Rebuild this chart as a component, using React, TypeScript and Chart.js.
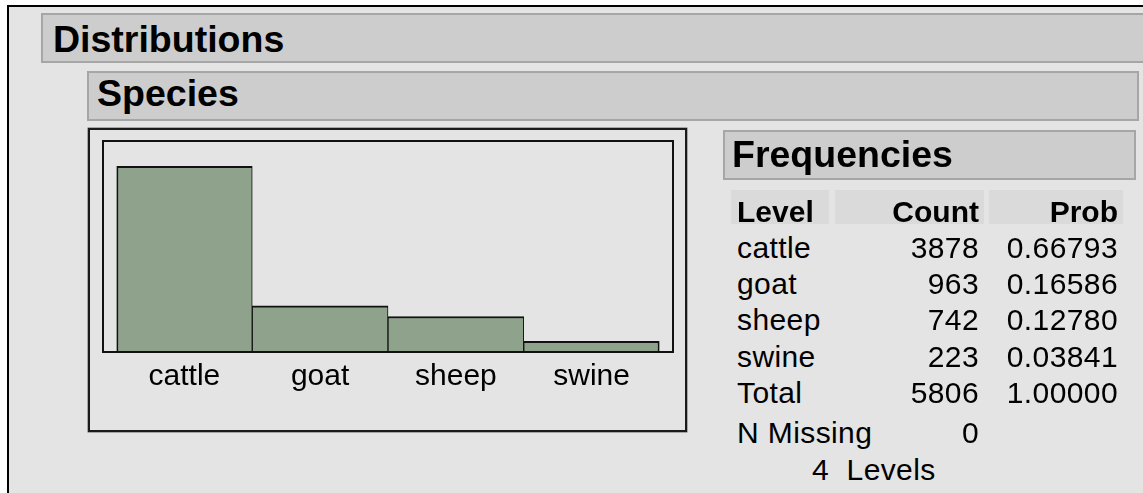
import React, { useEffect, useRef } from "react";
import { Chart, registerables } from "chart.js";

Chart.register(...registerables);

const levels = ["cattle", "goat", "sheep", "swine"];
const counts = [3878, 963, 742, 223];
const nMissing = 0;
const yAxisMax = 4410;

const FONT = "'Liberation Sans', Arial, sans-serif";
const BAR_FILL = "#8fa28c";
const PANEL_BG = "#e4e4e4";
const HEADER_BG = "#cdcdcd";
const HEADER_BORDER = "#a6a6a6";

type TxtProps = {
  x: number;
  base: number;
  size: number;
  bold?: boolean;
  align?: "left" | "right";
  children: React.ReactNode;
};

function Txt({ x, base, size, bold, align = "left", children }: TxtProps) {
  const top = base - 0.8465 * size;
  const style: React.CSSProperties = {
    position: "absolute",
    top,
    fontFamily: FONT,
    fontSize: size,
    lineHeight: `${size}px`,
    fontWeight: bold ? 700 : 400,
    color: "#000",
    whiteSpace: "nowrap",
    letterSpacing: bold ? 0 : 0.4,
  };
  if (align === "right") {
    style.left = x - 400;
    style.width = 400;
    style.textAlign = "right";
  } else {
    style.left = x;
  }
  return <div style={style}>{children}</div>;
}

function Header({ left, top, width, label, textX, base }: { left: number; top: number; width: number; label: string; textX: number; base: number }) {
  return (
    <>
      <div
        style={{
          position: "absolute",
          left,
          top,
          width,
          height: 50,
          boxSizing: "border-box",
          background: HEADER_BG,
          border: `2px solid ${HEADER_BORDER}`,
        }}
      />
      <Txt x={textX} base={base} size={37.5} bold>
        {label}
      </Txt>
    </>
  );
}

function BarChart() {
  const ref = useRef<HTMLCanvasElement | null>(null);
  useEffect(() => {
    if (!ref.current) return;
    const last = counts.length - 1;
    const framePlugin = {
      id: "innerFrame",
      afterDatasetsDraw(chart: any) {
        const { ctx, chartArea } = chart;
        const pad = 13.5;
        ctx.save();
        ctx.strokeStyle = "#111";
        ctx.lineWidth = 2;
        ctx.strokeRect(
          chartArea.left - pad,
          chartArea.top,
          chartArea.right - chartArea.left + 2 * pad,
          chartArea.bottom - chartArea.top
        );
        ctx.restore();
      },
    };
    const chart = new Chart(ref.current, {
      type: "bar",
      data: {
        labels: levels,
        datasets: [
          {
            data: counts,
            backgroundColor: BAR_FILL,
            borderColor: "#111",
            borderSkipped: false,
            borderWidth: (c: any) => ({
              top: 2,
              bottom: 0,
              left: c.dataIndex === 0 ? 2 : 1,
              right: c.dataIndex === last ? 2 : 1,
            }),
            categoryPercentage: 1,
            barPercentage: 1,
          },
        ],
      },
      options: {
        animation: false,
        responsive: false,
        maintainAspectRatio: false,
        events: [],
        layout: { padding: { left: 27.5, right: 26.5, top: 12, bottom: 29 } },
        plugins: { legend: { display: false }, tooltip: { enabled: false } },
        scales: {
          x: {
            grid: { display: false, drawTicks: false },
            border: { display: false },
            ticks: {
              padding: 7,
              color: "#000",
              font: { family: FONT, size: 30 },
              maxRotation: 0,
              autoSkip: false,
            },
          },
          y: { display: false, min: 0, max: yAxisMax },
        },
      },
      plugins: [framePlugin],
    });
    return () => chart.destroy();
  }, []);
  return (
    <canvas
      ref={ref}
      width={597}
      height={302}
      style={{ position: "absolute", left: 89, top: 129, width: 597, height: 302 }}
    />
  );
}

export default function App() {
  const total = counts.reduce((a, b) => a + b, 0);
  const rowBase = (i: number) => 258 + i * 36.3;
  return (
    <div
      style={{
        position: "fixed",
        left: 0,
        top: 0,
        width: 1143,
        height: 493,
        background: "#fff",
        overflow: "hidden",
      }}
    >
      <div
        style={{
          position: "absolute",
          left: 7,
          top: 5,
          width: 1200,
          height: 600,
          background: PANEL_BG,
          borderLeft: "2px solid #000",
          borderTop: "2px solid #000",
        }}
      />
      <Header left={41} top={13} width={1150} label="Distributions" textX={53} base={53} />
      <Header left={87} top={71} width={1052} label="Species" textX={97} base={107} />

      <div
        style={{
          position: "absolute",
          left: 88,
          top: 128,
          width: 599,
          height: 304,
          boxSizing: "border-box",
          border: "2px solid #1a1a1a",
          boxShadow: "0 0 0 0.5px #666",
        }}
      />
      <BarChart />

      <Header left={723} top={130} width={413} label="Frequencies" textX={732} base={168} />

      <div style={{ position: "absolute", left: 731, top: 190, width: 98, height: 34, background: "#dadada" }} />
      <div style={{ position: "absolute", left: 835, top: 190, width: 149, height: 34, background: "#dadada" }} />
      <div style={{ position: "absolute", left: 989, top: 190, width: 134, height: 34, background: "#dadada" }} />

      <Txt x={737} base={222} size={30} bold>Level</Txt>
      <Txt x={979} base={222} size={30} bold align="right">Count</Txt>
      <Txt x={1118} base={222} size={30} bold align="right">Prob</Txt>

      {levels.map((lv, i) => (
        <React.Fragment key={lv}>
          <Txt x={737} base={rowBase(i)} size={30}>{lv}</Txt>
          <Txt x={979} base={rowBase(i)} size={30} align="right">{counts[i]}</Txt>
          <Txt x={1118} base={rowBase(i)} size={30} align="right">{(counts[i] / total).toFixed(5)}</Txt>
        </React.Fragment>
      ))}
      <Txt x={737} base={rowBase(levels.length)} size={30}>Total</Txt>
      <Txt x={979} base={rowBase(levels.length)} size={30} align="right">{total}</Txt>
      <Txt x={1118} base={rowBase(levels.length)} size={30} align="right">{(1).toFixed(5)}</Txt>
      <Txt x={737} base={443} size={30}>N Missing</Txt>
      <Txt x={979} base={443} size={30} align="right">{nMissing}</Txt>
      <Txt x={812} base={480} size={30}>{`${levels.length}\u00a0 Levels`}</Txt>
    </div>
  );
}
